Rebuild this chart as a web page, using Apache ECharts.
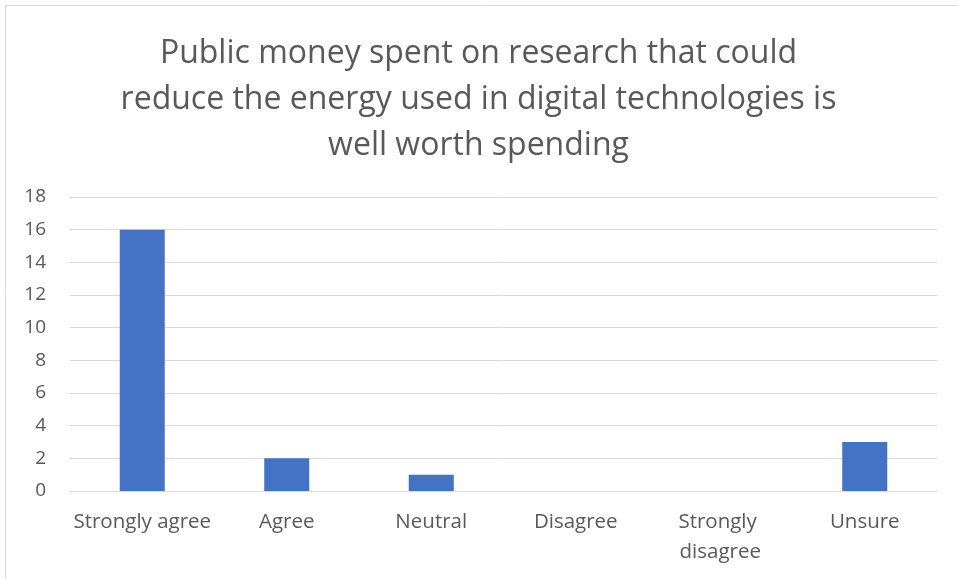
<!DOCTYPE html>
<html><head><meta charset="utf-8">
<script src="https://cdn.jsdelivr.net/npm/echarts@6/dist/echarts.min.js"></script>
<style>html,body{margin:0;padding:0;background:#fff}#c{width:957px;height:579px}</style>
</head><body><div id="c"></div>
<script>
const titleText = "Public money spent on research that could\nreduce the energy used in digital technologies is\nwell worth spending";
const categories = ["Strongly agree", "Agree", "Neutral", "Disagree", "Strongly disagree", "Unsure"];
const values = [16, 2, 1, 0, 0, 3];
const yTicks = [0, 2, 4, 6, 8, 10, 12, 14, 16, 18];

const FONT = "'Open Sans', sans-serif";
const chart = echarts.init(document.getElementById('c'), null, {renderer: 'canvas'});
chart.setOption({
  animation: false,
  backgroundColor: '#fff',
  graphic: [{
    type: 'rect', silent: true, z: -1,
    shape: {x: 5.5, y: 5.5, width: 1000, height: 1000},
    style: {fill: 'none', stroke: '#d9d9d9', lineWidth: 1}
  }],
  title: {
    text: titleText, left: 'center', top: 26,
    textStyle: {fontFamily: FONT, fontSize: 32, fontWeight: 'normal', color: '#595959', lineHeight: 46}
  },
  grid: {left: 70, right: 20, top: 197, bottom: 88, containLabel: false},
  xAxis: {
    type: 'category', data: categories,
    axisLine: {show: true, lineStyle: {color: '#d9d9d9', width: 1}},
    axisTick: {show: false},
    axisLabel: {fontFamily: FONT, fontSize: 20.5, color: '#595959', margin: 16, lineHeight: 30,
      width: 144, overflow: 'break', interval: 0}
  },
  yAxis: {
    type: 'value', min: yTicks[0], max: yTicks[yTicks.length - 1], interval: 2,
    axisLine: {show: false}, axisTick: {show: false},
    splitLine: {lineStyle: {color: '#d9d9d9', width: 1}},
    axisLabel: {fontFamily: FONT, fontSize: 19, color: '#595959', margin: 24}
  },
  series: [{
    type: 'bar', data: values, barWidth: 45,
    itemStyle: {color: '#4472c4'}
  }]
});
</script></body></html>
